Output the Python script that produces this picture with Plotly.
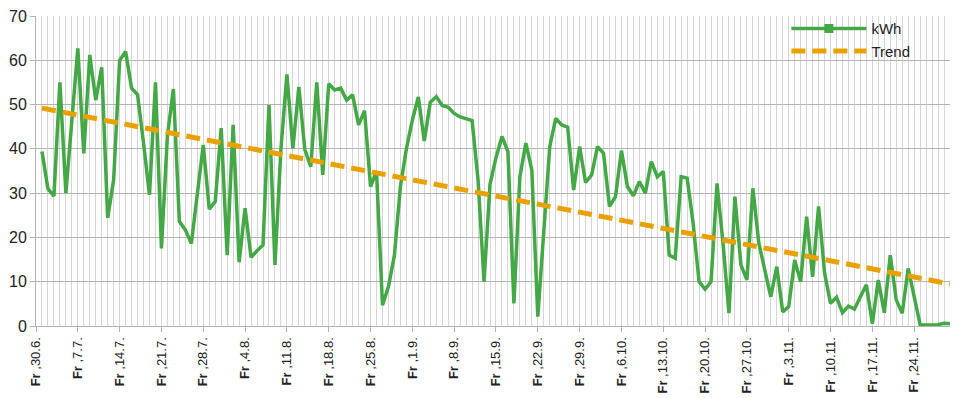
import plotly.graph_objects as go
import pandas as pd

# Daily energy (kWh), 1.7. .. 30.11.
kwh = [
    39.4, 31.0, 29.3, 55.0, 30.0, 47.0, 62.7, 39.0, 61.2, 51.0,
    58.4, 24.4, 33.0, 60.0, 62.0, 53.7, 52.2, 41.3, 29.6, 55.0,
    17.5, 43.0, 53.5, 23.6, 21.7, 18.6, 30.0, 40.9, 26.4, 28.1,
    44.7, 16.0, 45.4, 14.4, 26.6, 15.5, 17.0, 18.3, 49.9, 13.8,
    40.0, 56.8, 40.1, 54.0, 39.8, 36.0, 55.0, 34.1, 54.7, 53.3,
    53.7, 51.0, 52.2, 45.4, 48.6, 31.5, 34.9, 4.7, 8.9, 16.0,
    31.5, 40.0, 46.5, 51.7, 41.8, 50.5, 51.8, 49.8, 49.4, 48.0,
    47.2, 46.7, 46.4, 33.0, 10.0, 32.0, 38.0, 42.8, 39.4, 5.1,
    33.7, 41.3, 35.2, 2.1, 22.4, 40.5, 46.9, 45.4, 44.9, 30.7,
    40.5, 32.4, 34.1, 40.5, 39.0, 27.0, 29.2, 39.6, 31.5, 29.4,
    32.6, 30.0, 37.1, 33.7, 34.9, 16.0, 15.3, 33.7, 33.4, 23.2,
    10.0, 8.3, 10.0, 32.2, 18.7, 2.9, 29.2, 13.8, 10.4, 31.1,
    18.7, 12.7, 6.6, 13.4, 3.2, 4.4, 14.9, 10.0, 24.7, 11.1,
    27.0, 12.0, 5.1, 6.5, 3.0, 4.5, 3.8, 6.6, 9.3, 0.5,
    10.4, 3.0, 16.0, 5.9, 2.9, 13.0, 6.6, 0.3, 0.2, 0.2,
    0.3, 0.6, 0.5,
]
first_day = "2023-07-01"

# Trend line end values
trend_values = [49.2, 9.5]

# Weekly tick labels (Fridays)
tick_first = "2023-06-30"
tick_labels = [
    "30.6.", "7.7.", "14.7.", "21.7.", "28.7.", "4.8.", "11.8.", "18.8.",
    "25.8.", "1.9.", "8.9.", "15.9.", "22.9.", "29.9.", "6.10.", "13.10.",
    "20.10.", "27.10.", "3.11.", "10.11.", "17.11.", "24.11.",
]

dates = pd.date_range(first_day, periods=len(kwh), freq="D")
trend_x = [dates[0], dates[-1]]
tickvals = pd.date_range(tick_first, periods=len(tick_labels), freq="7D")
ticktext = ["<b>Fr</b> ," + t for t in tick_labels]

GREEN = "#43a845"
ORANGE = "#e9a100"

fig = go.Figure()
fig.add_trace(go.Scatter(
    x=dates, y=kwh, mode="lines", name="kWh", showlegend=False,
    line=dict(color=GREEN, width=3.5),
))
fig.add_trace(go.Scatter(
    x=[None], y=[None], mode="lines+markers", name="kWh",
    line=dict(color=GREEN, width=3.5),
    marker=dict(symbol="square", size=9, color=GREEN),
))
fig.add_trace(go.Scatter(
    x=trend_x, y=trend_values, mode="lines", name="Trend",
    line=dict(color=ORANGE, width=5, dash="14px,7px"),
))

fig.update_layout(
    width=962, height=398,
    margin=dict(l=36, r=12, t=16, b=72, autoexpand=False),
    paper_bgcolor="white", plot_bgcolor="white",
    font=dict(family="Liberation Sans, Arial, sans-serif", color="#222"),
    legend=dict(
        x=0.821, y=1.012, xanchor="left", yanchor="top",
        bgcolor="rgba(0,0,0,0)", font=dict(size=15, color="#222"),
        itemwidth=75, tracegroupgap=0,
    ),
    xaxis=dict(
        type="date", automargin=False,
        range=[tick_first, dates[-1]],
        tickmode="array", tickvals=tickvals, ticktext=ticktext,
        tickangle=-90, tickfont=dict(size=13, color="#222"),
        showgrid=True, gridcolor="#d6d6d6", gridwidth=1,
        ticks="outside", ticklen=5, tickcolor="#b3b3b3",
        showline=True, linecolor="#b3b3b3", linewidth=1,
        minor=dict(tickmode="linear", tick0=tick_first, dtick=86400000,
                   showgrid=True, gridcolor="#d6d6d6", gridwidth=1),
        zeroline=False,
    ),
    yaxis=dict(
        range=[0, 70], dtick=10, automargin=False,
        tickfont=dict(size=16, color="#222"),
        showgrid=True, gridcolor="#b3b3b3", gridwidth=1,
        ticks="outside", ticklen=5, tickcolor="#b3b3b3",
        showline=True, linecolor="#b3b3b3", linewidth=1,
        zeroline=False,
    ),
)

fig.write_html(
    "out.html",
    config={"displayModeBar": False},
    post_script="document.body.style.margin='0';",
)
